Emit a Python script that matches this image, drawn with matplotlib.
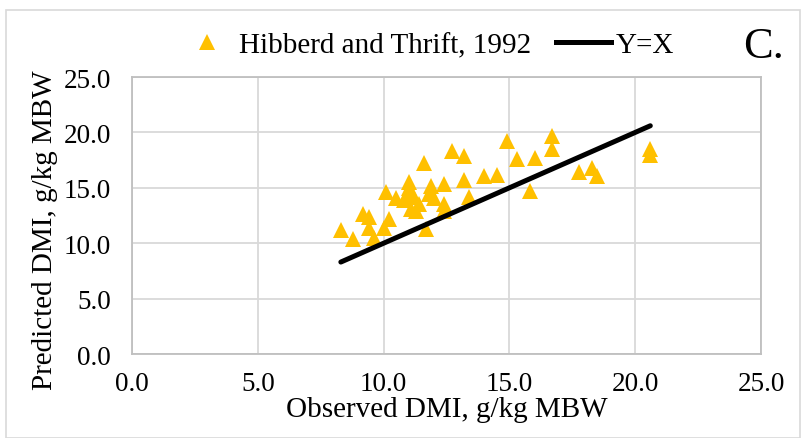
import matplotlib
matplotlib.use("Agg")
import matplotlib.pyplot as plt
from matplotlib.patches import Rectangle
from matplotlib.lines import Line2D

observed = [8.3, 8.8, 9.2, 9.4, 9.4, 9.6, 10.0, 10.1, 10.2, 10.5, 10.8, 11.0, 11.0,
            11.1, 11.2, 11.1, 11.3, 11.4, 11.6, 11.7, 11.8, 11.9, 12.0, 12.4, 12.4,
            12.4, 12.7, 13.2, 13.2, 13.4, 14.0, 14.5, 14.9, 15.3, 15.8, 16.0, 16.7,
            16.7, 17.75, 18.3, 18.5, 20.6, 20.6]
predicted = [11.2, 10.4, 12.6, 12.4, 11.4, 10.5, 11.4, 14.6, 12.2, 14.1, 13.9, 15.5, 15.0,
             14.5, 14.2, 13.1, 12.9, 13.5, 17.2, 11.3, 14.4, 15.2, 14.1, 15.3, 12.9,
             13.5, 18.3, 17.9, 15.7, 14.2, 16.1, 16.2, 19.2, 17.6, 14.7, 17.7, 19.7,
             18.5, 16.4, 16.8, 16.1, 18.5, 18.0]
line_x = [8.3, 20.6]
line_y = [8.3, 20.6]
ticks = [0.0, 5.0, 10.0, 15.0, 20.0, 25.0]
tick_labels = ["0.0", "5.0", "10.0", "15.0", "20.0", "25.0"]

plt.rcParams['font.family'] = ['Liberation Serif', 'DejaVu Serif']

fig = plt.figure(figsize=(8.02, 4.39), dpi=100)
ax = fig.add_axes([0.1646, 0.1913, 0.7843, 0.6310])

ax.plot(observed, predicted, linestyle='none', marker='^', markersize=12,
        color='#FFC000', markeredgewidth=0, zorder=3)
ax.plot(line_x, line_y, color='black', linewidth=3.6, solid_capstyle='round', zorder=4)

ax.set_xlim(0, 25)
ax.set_ylim(0, 25)
ax.set_xticks(ticks)
ax.set_xticklabels(tick_labels)
ax.set_yticks(ticks)
ax.set_yticklabels(tick_labels)
ax.tick_params(axis='x', length=0, labelsize=19.5, pad=12)
ax.tick_params(axis='y', length=0, labelsize=19.5, pad=15)
ax.grid(True, color='#D9D9D9', linewidth=1.3)
ax.set_axisbelow(True)
for s in ax.spines.values():
    s.set_color('#BFBFBF')
    s.set_linewidth(1.3)

ax.set_xlabel("Observed DMI, g/kg MBW", fontsize=21, labelpad=0)
ax.set_ylabel("Predicted DMI, g/kg MBW", fontsize=21)
ax.yaxis.set_label_coords(-0.118, 0.45)

handles = [Line2D([], [], linestyle='none', marker='^', markersize=12, color='#FFC000',
                  markeredgewidth=0),
           Line2D([], [], color='black', linewidth=3.6)]
fig.legend(handles, ["Hibberd and Thrift, 1992", "Y=X"], loc='center',
           bbox_to_anchor=(0.532, 0.895), ncol=2, frameon=False, fontsize=21,
           handlelength=1.9, handletextpad=0.15, columnspacing=0.86)

fig.text(0.952, 0.893, "C.", fontsize=32, ha='center', va='center')

fig.patches.append(Rectangle((0.008, 0.0), 0.99, 0.975, transform=fig.transFigure,
                             fill=False, edgecolor='#D9D9D9', linewidth=1.2))

fig.savefig("out.png", dpi=100)
